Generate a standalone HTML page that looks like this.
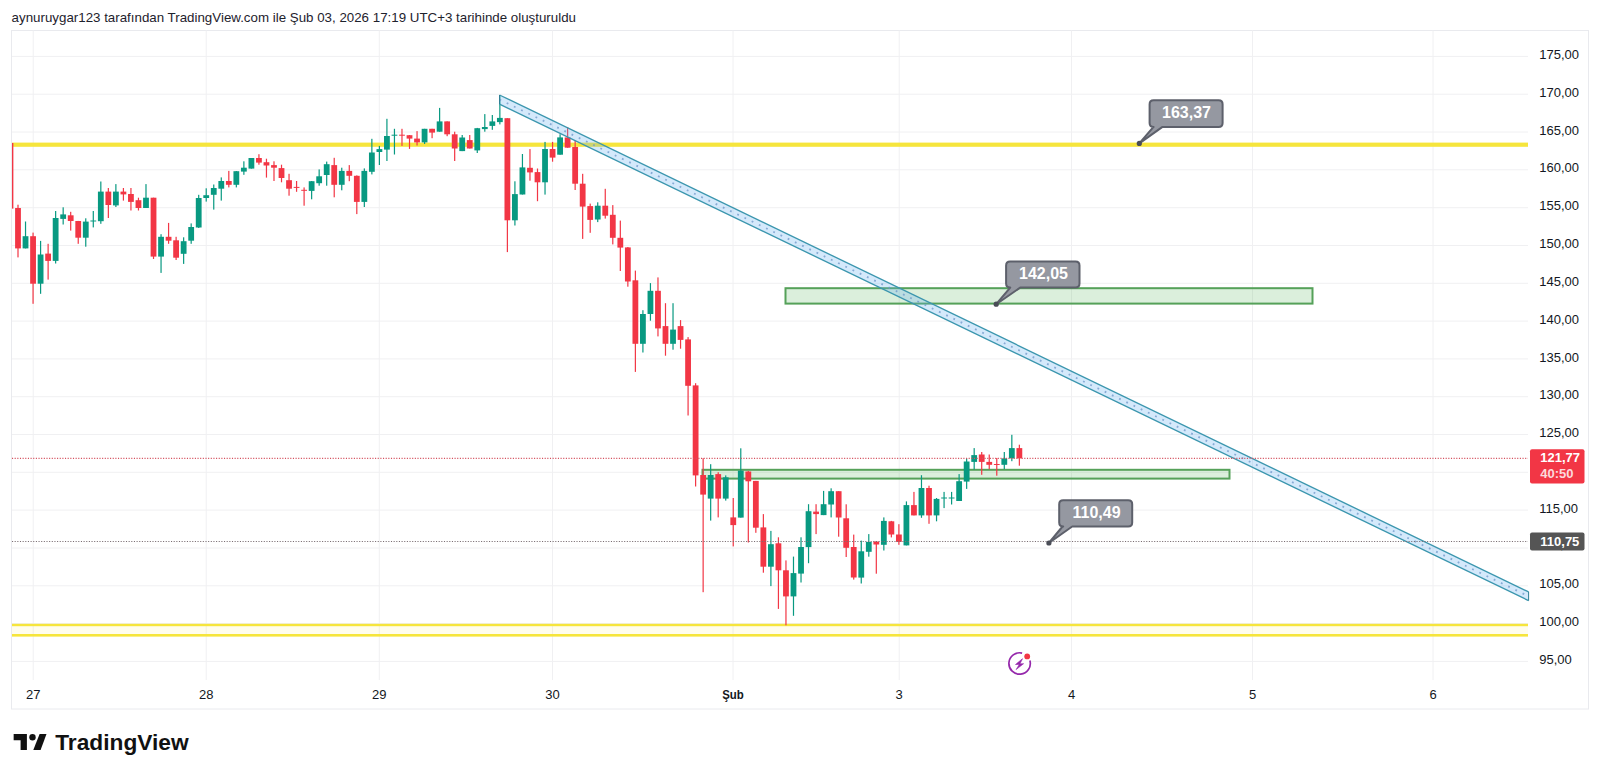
<!DOCTYPE html>
<html><head><meta charset="utf-8"><style>
html,body{margin:0;padding:0;background:#fff;}
body{width:1600px;height:776px;overflow:hidden;position:relative;font-family:"Liberation Sans",sans-serif;}
svg{position:absolute;left:0;top:0;}
svg text{font-family:"Liberation Sans",sans-serif;}
</style></head><body>
<svg width="1600" height="776" viewBox="0 0 1600 776">
<defs><clipPath id="plotclip"><rect x="12" y="30.5" width="1516" height="649.5"/></clipPath></defs>
<text x="11.6" y="22.1" font-size="13.2" fill="#1e222d" textLength="564.4" lengthAdjust="spacingAndGlyphs">aynuruygar123 tarafından TradingView.com ile Şub 03, 2026 17:19 UTC+3 tarihinde oluşturuldu</text>
<rect x="11.5" y="30.5" width="1577" height="678.5" fill="none" stroke="#e9eaee" stroke-width="1"/>
<g stroke="#f0f0f2" stroke-width="1"><line x1="12" x2="1528" y1="661.4" y2="661.4"/><line x1="12" x2="1528" y1="623.6" y2="623.6"/><line x1="12" x2="1528" y1="585.8" y2="585.8"/><line x1="12" x2="1528" y1="548.0" y2="548.0"/><line x1="12" x2="1528" y1="510.1" y2="510.1"/><line x1="12" x2="1528" y1="472.3" y2="472.3"/><line x1="12" x2="1528" y1="434.5" y2="434.5"/><line x1="12" x2="1528" y1="396.7" y2="396.7"/><line x1="12" x2="1528" y1="358.9" y2="358.9"/><line x1="12" x2="1528" y1="321.1" y2="321.1"/><line x1="12" x2="1528" y1="283.3" y2="283.3"/><line x1="12" x2="1528" y1="245.5" y2="245.5"/><line x1="12" x2="1528" y1="207.7" y2="207.7"/><line x1="12" x2="1528" y1="169.8" y2="169.8"/><line x1="12" x2="1528" y1="132.0" y2="132.0"/><line x1="12" x2="1528" y1="94.2" y2="94.2"/><line x1="12" x2="1528" y1="56.4" y2="56.4"/><line x1="33.2" x2="33.2" y1="30.5" y2="680"/><line x1="206.2" x2="206.2" y1="30.5" y2="680"/><line x1="379.3" x2="379.3" y1="30.5" y2="680"/><line x1="552.5" x2="552.5" y1="30.5" y2="680"/><line x1="733.0" x2="733.0" y1="30.5" y2="680"/><line x1="899.2" x2="899.2" y1="30.5" y2="680"/><line x1="1071.5" x2="1071.5" y1="30.5" y2="680"/><line x1="1252.5" x2="1252.5" y1="30.5" y2="680"/><line x1="1433.0" x2="1433.0" y1="30.5" y2="680"/></g><rect x="12" y="142.6" width="1516" height="4.2" fill="#f6e53c"/><rect x="12" y="626" width="1516" height="8.2" fill="rgba(255,235,59,0.09)"/><rect x="12" y="623.8" width="1516" height="2.4" fill="#f6e53c"/><rect x="12" y="634.0" width="1516" height="2.6" fill="#f6e53c"/><rect x="785.5" y="288.2" width="527.0" height="15.400000000000034" fill="rgba(76,175,80,0.2)" stroke="#55a159" stroke-width="2"/><rect x="702.5" y="469.8" width="527.0" height="8.800000000000011" fill="rgba(76,175,80,0.2)" stroke="#55a159" stroke-width="2"/><g clip-path="url(#plotclip)"><rect x="9.87" y="143.0" width="1.2" height="65.6" fill="#f23645"/><rect x="7.57" y="143.0" width="5.8" height="65.6" fill="#f23645"/><rect x="17.40" y="204.7" width="1.2" height="52.7" fill="#f23645"/><rect x="15.10" y="208.0" width="5.8" height="40.4" fill="#f23645"/><rect x="24.93" y="221.5" width="1.2" height="26.9" fill="#089981"/><rect x="22.63" y="236.2" width="5.8" height="12.2" fill="#089981"/><rect x="32.46" y="232.6" width="1.2" height="71.2" fill="#f23645"/><rect x="30.16" y="236.2" width="5.8" height="47.5" fill="#f23645"/><rect x="39.99" y="240.9" width="1.2" height="52.9" fill="#089981"/><rect x="37.69" y="254.5" width="5.8" height="29.2" fill="#089981"/><rect x="47.52" y="243.8" width="1.2" height="35.8" fill="#f23645"/><rect x="45.22" y="253.6" width="5.8" height="7.3" fill="#f23645"/><rect x="55.04" y="211.0" width="1.2" height="52.5" fill="#089981"/><rect x="52.74" y="218.0" width="5.8" height="42.9" fill="#089981"/><rect x="62.57" y="207.3" width="1.2" height="17.2" fill="#089981"/><rect x="60.27" y="214.4" width="5.8" height="4.5" fill="#089981"/><rect x="70.10" y="211.8" width="1.2" height="18.8" fill="#f23645"/><rect x="67.80" y="215.3" width="5.8" height="5.7" fill="#f23645"/><rect x="77.63" y="220.9" width="1.2" height="22.9" fill="#f23645"/><rect x="75.33" y="221.0" width="5.8" height="16.7" fill="#f23645"/><rect x="85.16" y="218.3" width="1.2" height="28.4" fill="#089981"/><rect x="82.86" y="221.6" width="5.8" height="16.1" fill="#089981"/><rect x="92.69" y="211.0" width="1.2" height="16.4" fill="#089981"/><rect x="90.39" y="220.5" width="5.8" height="1.0" fill="#089981"/><rect x="100.22" y="181.5" width="1.2" height="42.3" fill="#089981"/><rect x="97.92" y="191.6" width="5.8" height="29.6" fill="#089981"/><rect x="107.75" y="188.0" width="1.2" height="30.0" fill="#f23645"/><rect x="105.45" y="191.6" width="5.8" height="13.4" fill="#f23645"/><rect x="115.28" y="184.1" width="1.2" height="22.9" fill="#089981"/><rect x="112.98" y="191.6" width="5.8" height="13.8" fill="#089981"/><rect x="122.81" y="188.0" width="1.2" height="12.6" fill="#f23645"/><rect x="120.51" y="191.6" width="5.8" height="2.8" fill="#f23645"/><rect x="130.34" y="188.0" width="1.2" height="22.5" fill="#f23645"/><rect x="128.03" y="194.0" width="5.8" height="7.9" fill="#f23645"/><rect x="137.86" y="197.7" width="1.2" height="12.8" fill="#f23645"/><rect x="135.56" y="200.2" width="5.8" height="7.8" fill="#f23645"/><rect x="145.39" y="184.1" width="1.2" height="23.9" fill="#089981"/><rect x="143.09" y="197.7" width="5.8" height="10.3" fill="#089981"/><rect x="152.92" y="197.7" width="1.2" height="61.3" fill="#f23645"/><rect x="150.62" y="197.7" width="5.8" height="58.9" fill="#f23645"/><rect x="160.45" y="234.2" width="1.2" height="38.7" fill="#089981"/><rect x="158.15" y="236.8" width="5.8" height="19.8" fill="#089981"/><rect x="167.98" y="222.9" width="1.2" height="20.9" fill="#f23645"/><rect x="165.68" y="236.8" width="5.8" height="3.9" fill="#f23645"/><rect x="175.51" y="236.8" width="1.2" height="23.2" fill="#f23645"/><rect x="173.21" y="240.3" width="5.8" height="17.4" fill="#f23645"/><rect x="183.04" y="237.3" width="1.2" height="26.6" fill="#089981"/><rect x="180.74" y="241.2" width="5.8" height="12.6" fill="#089981"/><rect x="190.57" y="223.4" width="1.2" height="20.4" fill="#089981"/><rect x="188.27" y="227.0" width="5.8" height="13.7" fill="#089981"/><rect x="198.10" y="194.8" width="1.2" height="33.2" fill="#089981"/><rect x="195.80" y="198.0" width="5.8" height="29.5" fill="#089981"/><rect x="205.62" y="188.3" width="1.2" height="13.3" fill="#089981"/><rect x="203.32" y="195.2" width="5.8" height="2.8" fill="#089981"/><rect x="213.15" y="184.5" width="1.2" height="25.1" fill="#089981"/><rect x="210.85" y="188.0" width="5.8" height="6.8" fill="#089981"/><rect x="220.68" y="177.4" width="1.2" height="23.2" fill="#089981"/><rect x="218.38" y="181.0" width="5.8" height="7.7" fill="#089981"/><rect x="228.21" y="170.9" width="1.2" height="16.5" fill="#f23645"/><rect x="225.91" y="181.0" width="5.8" height="3.8" fill="#f23645"/><rect x="235.74" y="171.0" width="1.2" height="16.4" fill="#089981"/><rect x="233.44" y="171.2" width="5.8" height="13.6" fill="#089981"/><rect x="243.27" y="161.3" width="1.2" height="13.5" fill="#089981"/><rect x="240.97" y="167.7" width="5.8" height="3.9" fill="#089981"/><rect x="250.80" y="158.0" width="1.2" height="10.6" fill="#089981"/><rect x="248.50" y="158.0" width="5.8" height="10.6" fill="#089981"/><rect x="258.33" y="154.2" width="1.2" height="10.5" fill="#f23645"/><rect x="256.03" y="158.0" width="5.8" height="4.6" fill="#f23645"/><rect x="265.86" y="158.7" width="1.2" height="18.9" fill="#f23645"/><rect x="263.56" y="162.2" width="5.8" height="3.3" fill="#f23645"/><rect x="273.39" y="161.3" width="1.2" height="19.7" fill="#f23645"/><rect x="271.09" y="165.1" width="5.8" height="2.6" fill="#f23645"/><rect x="280.91" y="164.7" width="1.2" height="17.6" fill="#f23645"/><rect x="278.62" y="168.1" width="5.8" height="9.9" fill="#f23645"/><rect x="288.44" y="173.8" width="1.2" height="21.9" fill="#f23645"/><rect x="286.14" y="180.2" width="5.8" height="8.5" fill="#f23645"/><rect x="295.97" y="181.0" width="1.2" height="10.8" fill="#f23645"/><rect x="293.67" y="186.9" width="5.8" height="1.0" fill="#f23645"/><rect x="303.50" y="187.4" width="1.2" height="18.3" fill="#f23645"/><rect x="301.20" y="189.8" width="5.8" height="1.0" fill="#f23645"/><rect x="311.03" y="181.0" width="1.2" height="18.3" fill="#089981"/><rect x="308.73" y="181.2" width="5.8" height="9.7" fill="#089981"/><rect x="318.56" y="169.4" width="1.2" height="16.3" fill="#089981"/><rect x="316.26" y="176.3" width="5.8" height="6.9" fill="#089981"/><rect x="326.09" y="161.6" width="1.2" height="24.1" fill="#089981"/><rect x="323.79" y="164.2" width="5.8" height="10.8" fill="#089981"/><rect x="333.62" y="157.8" width="1.2" height="39.5" fill="#f23645"/><rect x="331.32" y="165.1" width="5.8" height="19.7" fill="#f23645"/><rect x="341.15" y="167.7" width="1.2" height="22.6" fill="#089981"/><rect x="338.85" y="170.9" width="5.8" height="13.9" fill="#089981"/><rect x="348.68" y="165.1" width="1.2" height="16.1" fill="#f23645"/><rect x="346.38" y="170.9" width="5.8" height="4.9" fill="#f23645"/><rect x="356.20" y="175.4" width="1.2" height="38.7" fill="#f23645"/><rect x="353.91" y="175.8" width="5.8" height="26.1" fill="#f23645"/><rect x="363.73" y="168.4" width="1.2" height="38.6" fill="#089981"/><rect x="361.43" y="170.9" width="5.8" height="31.0" fill="#089981"/><rect x="371.26" y="138.8" width="1.2" height="35.6" fill="#089981"/><rect x="368.96" y="152.5" width="5.8" height="19.3" fill="#089981"/><rect x="378.79" y="145.9" width="1.2" height="19.1" fill="#089981"/><rect x="376.49" y="149.1" width="5.8" height="2.9" fill="#089981"/><rect x="386.32" y="118.8" width="1.2" height="42.2" fill="#089981"/><rect x="384.02" y="136.0" width="5.8" height="13.6" fill="#089981"/><rect x="393.85" y="128.8" width="1.2" height="25.7" fill="#089981"/><rect x="391.55" y="134.7" width="5.8" height="1.0" fill="#089981"/><rect x="401.38" y="128.8" width="1.2" height="17.1" fill="#f23645"/><rect x="399.08" y="134.7" width="5.8" height="1.0" fill="#f23645"/><rect x="408.91" y="135.0" width="1.2" height="13.9" fill="#f23645"/><rect x="406.61" y="135.2" width="5.8" height="3.4" fill="#f23645"/><rect x="416.44" y="131.1" width="1.2" height="14.4" fill="#f23645"/><rect x="414.14" y="138.6" width="5.8" height="3.8" fill="#f23645"/><rect x="423.97" y="128.8" width="1.2" height="15.2" fill="#089981"/><rect x="421.67" y="128.8" width="5.8" height="13.6" fill="#089981"/><rect x="431.49" y="128.8" width="1.2" height="9.4" fill="#f23645"/><rect x="429.19" y="128.8" width="5.8" height="3.8" fill="#f23645"/><rect x="439.02" y="107.9" width="1.2" height="23.8" fill="#089981"/><rect x="436.72" y="121.4" width="5.8" height="10.3" fill="#089981"/><rect x="446.55" y="121.4" width="1.2" height="14.8" fill="#f23645"/><rect x="444.25" y="121.4" width="5.8" height="12.9" fill="#f23645"/><rect x="454.08" y="131.7" width="1.2" height="29.3" fill="#f23645"/><rect x="451.78" y="134.3" width="5.8" height="14.2" fill="#f23645"/><rect x="461.61" y="135.0" width="1.2" height="16.1" fill="#089981"/><rect x="459.31" y="137.5" width="5.8" height="13.6" fill="#089981"/><rect x="469.14" y="135.0" width="1.2" height="13.5" fill="#f23645"/><rect x="466.84" y="140.1" width="5.8" height="8.4" fill="#f23645"/><rect x="476.67" y="127.9" width="1.2" height="25.1" fill="#089981"/><rect x="474.37" y="128.2" width="5.8" height="22.2" fill="#089981"/><rect x="484.20" y="114.1" width="1.2" height="17.6" fill="#089981"/><rect x="481.90" y="127.0" width="5.8" height="2.1" fill="#089981"/><rect x="491.73" y="115.0" width="1.2" height="14.8" fill="#089981"/><rect x="489.43" y="121.4" width="5.8" height="4.5" fill="#089981"/><rect x="499.26" y="95.5" width="1.2" height="28.9" fill="#089981"/><rect x="496.96" y="117.9" width="5.8" height="4.2" fill="#089981"/><rect x="506.78" y="118.2" width="1.2" height="133.9" fill="#f23645"/><rect x="504.49" y="118.2" width="5.8" height="102.1" fill="#f23645"/><rect x="514.31" y="181.3" width="1.2" height="44.2" fill="#089981"/><rect x="512.01" y="194.1" width="5.8" height="26.2" fill="#089981"/><rect x="521.84" y="154.0" width="1.2" height="40.5" fill="#089981"/><rect x="519.54" y="167.4" width="5.8" height="27.1" fill="#089981"/><rect x="529.37" y="149.1" width="1.2" height="31.6" fill="#f23645"/><rect x="527.07" y="167.8" width="5.8" height="4.6" fill="#f23645"/><rect x="536.90" y="168.5" width="1.2" height="32.7" fill="#f23645"/><rect x="534.60" y="172.1" width="5.8" height="10.2" fill="#f23645"/><rect x="544.43" y="141.9" width="1.2" height="52.7" fill="#089981"/><rect x="542.13" y="149.0" width="5.8" height="33.3" fill="#089981"/><rect x="551.96" y="141.9" width="1.2" height="19.8" fill="#f23645"/><rect x="549.66" y="149.0" width="5.8" height="8.6" fill="#f23645"/><rect x="559.49" y="134.2" width="1.2" height="20.5" fill="#089981"/><rect x="557.19" y="137.4" width="5.8" height="17.3" fill="#089981"/><rect x="567.02" y="127.1" width="1.2" height="20.6" fill="#f23645"/><rect x="564.72" y="137.4" width="5.8" height="10.3" fill="#f23645"/><rect x="574.55" y="140.6" width="1.2" height="49.4" fill="#f23645"/><rect x="572.25" y="147.0" width="5.8" height="36.7" fill="#f23645"/><rect x="582.07" y="173.8" width="1.2" height="65.1" fill="#f23645"/><rect x="579.77" y="183.7" width="5.8" height="22.9" fill="#f23645"/><rect x="589.60" y="203.6" width="1.2" height="29.2" fill="#f23645"/><rect x="587.30" y="206.1" width="5.8" height="13.8" fill="#f23645"/><rect x="597.13" y="202.3" width="1.2" height="19.8" fill="#089981"/><rect x="594.83" y="205.7" width="5.8" height="13.8" fill="#089981"/><rect x="604.66" y="188.8" width="1.2" height="29.8" fill="#f23645"/><rect x="602.36" y="205.7" width="5.8" height="10.0" fill="#f23645"/><rect x="612.19" y="205.1" width="1.2" height="39.3" fill="#f23645"/><rect x="609.89" y="214.8" width="5.8" height="23.0" fill="#f23645"/><rect x="619.72" y="220.6" width="1.2" height="50.4" fill="#f23645"/><rect x="617.42" y="237.8" width="5.8" height="9.8" fill="#f23645"/><rect x="627.25" y="247.0" width="1.2" height="39.7" fill="#f23645"/><rect x="624.95" y="247.4" width="5.8" height="34.1" fill="#f23645"/><rect x="634.78" y="270.6" width="1.2" height="101.3" fill="#f23645"/><rect x="632.48" y="280.3" width="5.8" height="63.5" fill="#f23645"/><rect x="642.31" y="310.2" width="1.2" height="42.3" fill="#089981"/><rect x="640.01" y="314.0" width="5.8" height="29.8" fill="#089981"/><rect x="649.84" y="283.1" width="1.2" height="37.6" fill="#089981"/><rect x="647.54" y="290.8" width="5.8" height="23.2" fill="#089981"/><rect x="657.37" y="277.4" width="1.2" height="59.0" fill="#f23645"/><rect x="655.07" y="290.8" width="5.8" height="37.6" fill="#f23645"/><rect x="664.89" y="303.2" width="1.2" height="52.5" fill="#f23645"/><rect x="662.59" y="326.1" width="5.8" height="17.7" fill="#f23645"/><rect x="672.42" y="303.2" width="1.2" height="46.5" fill="#089981"/><rect x="670.12" y="329.6" width="5.8" height="14.2" fill="#089981"/><rect x="679.95" y="320.1" width="1.2" height="28.6" fill="#f23645"/><rect x="677.65" y="326.1" width="5.8" height="13.8" fill="#f23645"/><rect x="687.48" y="337.1" width="1.2" height="78.4" fill="#f23645"/><rect x="685.18" y="339.4" width="5.8" height="46.4" fill="#f23645"/><rect x="695.01" y="383.2" width="1.2" height="103.3" fill="#f23645"/><rect x="692.71" y="385.4" width="5.8" height="90.0" fill="#f23645"/><rect x="702.54" y="458.2" width="1.2" height="134.0" fill="#f23645"/><rect x="700.24" y="475.0" width="5.8" height="19.6" fill="#f23645"/><rect x="710.07" y="464.2" width="1.2" height="56.4" fill="#089981"/><rect x="707.77" y="475.0" width="5.8" height="23.6" fill="#089981"/><rect x="717.60" y="472.2" width="1.2" height="45.2" fill="#f23645"/><rect x="715.30" y="474.1" width="5.8" height="24.5" fill="#f23645"/><rect x="725.13" y="475.4" width="1.2" height="25.2" fill="#089981"/><rect x="722.83" y="477.3" width="5.8" height="21.3" fill="#089981"/><rect x="732.65" y="498.0" width="1.2" height="48.4" fill="#f23645"/><rect x="730.36" y="517.4" width="5.8" height="7.7" fill="#f23645"/><rect x="740.18" y="448.3" width="1.2" height="69.3" fill="#089981"/><rect x="737.88" y="470.6" width="5.8" height="47.0" fill="#089981"/><rect x="747.71" y="470.9" width="1.2" height="71.6" fill="#f23645"/><rect x="745.41" y="471.5" width="5.8" height="9.8" fill="#f23645"/><rect x="755.24" y="480.9" width="1.2" height="51.9" fill="#f23645"/><rect x="752.94" y="480.9" width="5.8" height="46.8" fill="#f23645"/><rect x="762.77" y="514.1" width="1.2" height="58.6" fill="#f23645"/><rect x="760.47" y="527.4" width="5.8" height="39.3" fill="#f23645"/><rect x="770.30" y="530.9" width="1.2" height="55.2" fill="#089981"/><rect x="768.00" y="544.2" width="5.8" height="22.5" fill="#089981"/><rect x="777.83" y="537.3" width="1.2" height="71.6" fill="#f23645"/><rect x="775.53" y="543.3" width="5.8" height="27.0" fill="#f23645"/><rect x="785.36" y="560.4" width="1.2" height="64.9" fill="#f23645"/><rect x="783.06" y="570.3" width="5.8" height="26.1" fill="#f23645"/><rect x="792.89" y="556.6" width="1.2" height="59.2" fill="#089981"/><rect x="790.59" y="573.1" width="5.8" height="23.3" fill="#089981"/><rect x="800.42" y="537.3" width="1.2" height="45.2" fill="#089981"/><rect x="798.12" y="547.0" width="5.8" height="26.6" fill="#089981"/><rect x="807.94" y="504.2" width="1.2" height="59.0" fill="#089981"/><rect x="805.64" y="511.2" width="5.8" height="35.9" fill="#089981"/><rect x="815.47" y="504.2" width="1.2" height="29.9" fill="#f23645"/><rect x="813.17" y="511.6" width="5.8" height="2.5" fill="#f23645"/><rect x="823.00" y="490.9" width="1.2" height="24.2" fill="#089981"/><rect x="820.70" y="504.2" width="5.8" height="10.9" fill="#089981"/><rect x="830.53" y="488.3" width="1.2" height="29.1" fill="#089981"/><rect x="828.23" y="491.2" width="5.8" height="13.3" fill="#089981"/><rect x="838.06" y="491.2" width="1.2" height="45.5" fill="#f23645"/><rect x="835.76" y="491.2" width="5.8" height="26.3" fill="#f23645"/><rect x="845.59" y="504.3" width="1.2" height="52.7" fill="#f23645"/><rect x="843.29" y="518.3" width="5.8" height="29.5" fill="#f23645"/><rect x="853.12" y="534.6" width="1.2" height="45.0" fill="#f23645"/><rect x="850.82" y="547.0" width="5.8" height="30.5" fill="#f23645"/><rect x="860.65" y="540.6" width="1.2" height="42.9" fill="#089981"/><rect x="858.35" y="551.3" width="5.8" height="26.3" fill="#089981"/><rect x="868.18" y="534.1" width="1.2" height="22.6" fill="#089981"/><rect x="865.88" y="541.9" width="5.8" height="9.9" fill="#089981"/><rect x="875.71" y="541.0" width="1.2" height="32.7" fill="#f23645"/><rect x="873.41" y="541.5" width="5.8" height="3.0" fill="#f23645"/><rect x="883.24" y="517.4" width="1.2" height="33.1" fill="#089981"/><rect x="880.94" y="520.9" width="5.8" height="23.9" fill="#089981"/><rect x="890.76" y="520.9" width="1.2" height="16.5" fill="#f23645"/><rect x="888.46" y="521.3" width="5.8" height="13.2" fill="#f23645"/><rect x="898.29" y="524.2" width="1.2" height="20.6" fill="#f23645"/><rect x="895.99" y="534.5" width="5.8" height="7.4" fill="#f23645"/><rect x="905.82" y="501.4" width="1.2" height="44.0" fill="#089981"/><rect x="903.52" y="505.1" width="5.8" height="40.3" fill="#089981"/><rect x="913.35" y="491.9" width="1.2" height="23.5" fill="#f23645"/><rect x="911.05" y="505.1" width="5.8" height="10.3" fill="#f23645"/><rect x="920.88" y="475.2" width="1.2" height="42.6" fill="#089981"/><rect x="918.58" y="488.0" width="5.8" height="27.4" fill="#089981"/><rect x="928.41" y="485.7" width="1.2" height="38.1" fill="#f23645"/><rect x="926.11" y="488.0" width="5.8" height="27.4" fill="#f23645"/><rect x="935.94" y="498.0" width="1.2" height="23.3" fill="#089981"/><rect x="933.64" y="498.9" width="5.8" height="16.5" fill="#089981"/><rect x="943.47" y="491.9" width="1.2" height="16.2" fill="#089981"/><rect x="941.17" y="497.5" width="5.8" height="1.0" fill="#089981"/><rect x="951.00" y="491.9" width="1.2" height="12.6" fill="#089981"/><rect x="948.70" y="497.5" width="5.8" height="1.0" fill="#089981"/><rect x="958.52" y="474.1" width="1.2" height="26.9" fill="#089981"/><rect x="956.23" y="481.2" width="5.8" height="19.8" fill="#089981"/><rect x="966.05" y="458.4" width="1.2" height="30.5" fill="#089981"/><rect x="963.75" y="461.5" width="5.8" height="20.1" fill="#089981"/><rect x="973.58" y="448.1" width="1.2" height="21.5" fill="#089981"/><rect x="971.28" y="455.1" width="5.8" height="6.8" fill="#089981"/><rect x="981.11" y="452.0" width="1.2" height="22.8" fill="#f23645"/><rect x="978.81" y="454.5" width="5.8" height="7.4" fill="#f23645"/><rect x="988.64" y="454.5" width="1.2" height="14.7" fill="#f23645"/><rect x="986.34" y="461.9" width="5.8" height="2.9" fill="#f23645"/><rect x="996.17" y="458.0" width="1.2" height="17.7" fill="#f23645"/><rect x="993.87" y="464.0" width="5.8" height="1.0" fill="#f23645"/><rect x="1003.70" y="452.0" width="1.2" height="17.2" fill="#089981"/><rect x="1001.40" y="458.4" width="5.8" height="6.4" fill="#089981"/><rect x="1011.23" y="434.8" width="1.2" height="26.4" fill="#089981"/><rect x="1008.93" y="448.1" width="5.8" height="10.3" fill="#089981"/><rect x="1018.76" y="444.7" width="1.2" height="21.0" fill="#f23645"/><rect x="1016.46" y="448.1" width="5.8" height="10.3" fill="#f23645"/></g><polygon points="499.5,95.0 1528.6,591.9 1528.6,600.6 499.5,104.1" fill="rgba(100,175,240,0.28)"/><line x1="499.5" y1="95.0" x2="1528.6" y2="591.9" stroke="#3b96ae" stroke-width="1.35"/><line x1="499.5" y1="104.1" x2="1528.6" y2="600.6" stroke="#3b96ae" stroke-width="1.35"/><line x1="499.5" y1="99.55" x2="1528.6" y2="596.25" stroke="rgba(110,150,200,0.75)" stroke-width="1.8" stroke-dasharray="1.8 6.2"/><line x1="499.5" y1="95.0" x2="499.5" y2="104.1" stroke="#2f7f95" stroke-width="1"/><line x1="1528.6" y1="591.9" x2="1528.6" y2="600.6" stroke="#2f7f95" stroke-width="1"/><line x1="12" x2="1528" y1="458.4" y2="458.4" stroke="#d4505e" stroke-width="1.1" stroke-dasharray="1.1 1.55"/><line x1="12" x2="1528" y1="541.5" y2="541.5" stroke="#7a6d72" stroke-width="1.1" stroke-dasharray="1.1 1.55"/><path d="M1153.6,100.3 H1218.6 Q1222.6,100.3 1222.6,104.3 V122.9 Q1222.6,126.9 1218.6,126.9 H1162.5 L1139.3,143.4 L1153.5,126.9 H1153.6 Q1149.6,126.9 1149.6,122.9 V104.3 Q1149.6,100.3 1153.6,100.3 Z" fill="#9598a1" stroke="#5d606b" stroke-width="2" stroke-linejoin="round"/><circle cx="1139.3" cy="143.4" r="2.6" fill="#4a4d57"/><text x="1186.5" y="117.8" font-size="16" font-weight="bold" fill="#fff" text-anchor="middle">163,37</text><path d="M1010.1,261.4 H1075.5 Q1079.5,261.4 1079.5,265.4 V283.6 Q1079.5,287.6 1075.5,287.6 H1020.2 L996.2,304.2 L1010.2,287.6 H1010.1 Q1006.1,287.6 1006.1,283.6 V265.4 Q1006.1,261.4 1010.1,261.4 Z" fill="#9598a1" stroke="#5d606b" stroke-width="2" stroke-linejoin="round"/><circle cx="996.2" cy="304.2" r="2.6" fill="#4a4d57"/><text x="1043.5" y="279" font-size="16" font-weight="bold" fill="#fff" text-anchor="middle">142,05</text><path d="M1063.2,500.3 H1128.2 Q1132.2,500.3 1132.2,504.3 V522.5 Q1132.2,526.5 1128.2,526.5 H1072.2 L1048.9,543 L1062.5,526.5 H1063.2 Q1059.2,526.5 1059.2,522.5 V504.3 Q1059.2,500.3 1063.2,500.3 Z" fill="#9598a1" stroke="#5d606b" stroke-width="2" stroke-linejoin="round"/><circle cx="1048.9" cy="543" r="2.6" fill="#4a4d57"/><text x="1096.5" y="518.2" font-size="16" font-weight="bold" fill="#fff" text-anchor="middle">110,49</text>
<g font-size="13" fill="#131722"><text x="1539.2" y="664.0">95,00</text><text x="1539.2" y="626.2">100,00</text><text x="1539.2" y="588.4">105,00</text><text x="1539.2" y="548.6">110,00</text><text x="1539.2" y="512.8">115,00</text><text x="1539.2" y="474.9">120,00</text><text x="1539.2" y="437.1">125,00</text><text x="1539.2" y="399.3">130,00</text><text x="1539.2" y="361.5">135,00</text><text x="1539.2" y="323.7">140,00</text><text x="1539.2" y="285.9">145,00</text><text x="1539.2" y="248.1">150,00</text><text x="1539.2" y="210.2">155,00</text><text x="1539.2" y="172.4">160,00</text><text x="1539.2" y="134.6">165,00</text><text x="1539.2" y="96.8">170,00</text><text x="1539.2" y="59.0">175,00</text></g>
<g font-size="13" fill="#131722"><text x="33.2" y="698.7" text-anchor="middle">27</text><text x="206.2" y="698.7" text-anchor="middle">28</text><text x="379.3" y="698.7" text-anchor="middle">29</text><text x="552.5" y="698.7" text-anchor="middle">30</text><text x="722.2" y="698.7" font-weight="bold" textLength="21.6" lengthAdjust="spacingAndGlyphs">Şub</text><text x="899.2" y="698.7" text-anchor="middle">3</text><text x="1071.5" y="698.7" text-anchor="middle">4</text><text x="1252.5" y="698.7" text-anchor="middle">5</text><text x="1433" y="698.7" text-anchor="middle">6</text></g>
<rect x="1530" y="449.3" width="54.5" height="34.3" rx="2" fill="#f23645"/><text x="1540.3" y="462.4" font-size="13" font-weight="bold" fill="#fff">121,77</text><text x="1540.3" y="477.9" font-size="13" font-weight="bold" fill="#fff" fill-opacity="0.82">40:50</text><rect x="1530" y="532.4" width="54.5" height="18.1" rx="2" fill="#555555"/><text x="1540.3" y="546" font-size="13" font-weight="bold" fill="#fff">110,75</text>
<g><circle cx="1019.5" cy="663.5" r="10.5" fill="#fff"/><path d="M1022.1,653.1 A10.7,10.7 0 1 0 1029.9,660.6" fill="none" stroke="#9527ab" stroke-width="1.7"/><circle cx="1027.2" cy="656.4" r="2.9" fill="#f23645"/><path d="M1022.5,658.7 L1015.5,664.5 L1019.3,664.4 L1016.1,669.6 L1023.6,663.7 L1020.0,663.8 Z" fill="#9527ab" stroke="#9527ab" stroke-width="0.6" stroke-linejoin="round"/></g>
<g fill="#111"><path d="M13.65,733.9 H26.9 V750.1 H20.6 V740.2 H13.65 Z"/><circle cx="32.5" cy="737.2" r="3.2"/><path d="M39.6,733.9 H46.5 L40.6,750.1 H33.3 Z"/></g><text x="55.2" y="750.1" font-size="22.3" font-weight="bold" fill="#111" textLength="133.5" lengthAdjust="spacingAndGlyphs">TradingView</text>
</svg>
</body></html>
